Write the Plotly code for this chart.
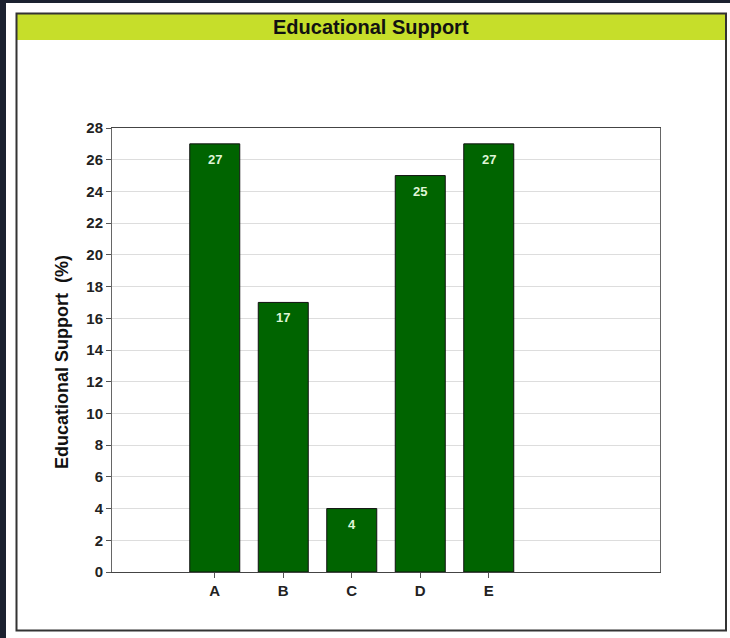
import plotly.graph_objects as go

categories = ["A", "B", "C", "D", "E"]
support_pct = [27, 17, 4, 25, 27]
y_ticks = list(range(0, 29, 2))

W, H = 730, 638
L, R, T, B = 112, 70, 128, 66
pw, ph = W - L - R, H - T - B
FONT = "Liberation Sans, Arial, Helvetica"


def px_x(px):
    return (px - L) / pw


def px_y(py):
    return (H - B - py) / ph


fig = go.Figure(
    go.Bar(
        x=categories,
        y=support_pct,
        width=0.73,
        marker=dict(color="#006400", line=dict(color="#111111", width=1)),
        hoverinfo="x+y",
    )
)

# value labels just inside the top of each bar
value_labels = [
    dict(x=c, y=v, xref="x", yref="y", text=f"<b>{v}</b>", showarrow=False,
         xanchor="center", yanchor="top", yshift=-6,
         font=dict(size=13, color="#dff5d6", family=FONT))
    for c, v in zip(categories, support_pct)
]

shapes = [
    # dark page edges
    dict(type="rect", xref="paper", yref="paper", x0=px_x(-5), x1=px_x(W + 5),
         y0=px_y(3), y1=px_y(-5), fillcolor="#1b2130", line=dict(width=0), layer="below"),
    dict(type="rect", xref="paper", yref="paper", x0=px_x(-5), x1=px_x(6),
         y0=px_y(H + 5), y1=px_y(-5), fillcolor="#1b2130", line=dict(width=0), layer="below"),
    # header band
    dict(type="rect", xref="paper", yref="paper", x0=px_x(17), x1=px_x(725.5),
         y0=px_y(40), y1=px_y(14), fillcolor="#c6de2a", line=dict(width=0), layer="below"),
    # panel frame
    dict(type="rect", xref="paper", yref="paper", x0=px_x(16.5), x1=px_x(726),
         y0=px_y(630.5), y1=px_y(13.5), fillcolor="rgba(0,0,0,0)",
         line=dict(color="#333333", width=2), layer="above"),
]

fig.update_layout(
    width=W,
    height=H,
    margin=dict(l=L, r=R, t=T, b=B, autoexpand=False),
    paper_bgcolor="white",
    plot_bgcolor="rgba(0,0,0,0)",
    showlegend=False,
    shapes=shapes,
    font=dict(family=FONT, color="#222222"),
    annotations=[
        dict(text="<b>Educational Support</b>", xref="paper", yref="paper",
             x=px_x(371), y=px_y(27), xanchor="center", yanchor="middle",
             showarrow=False, font=dict(size=20, color="#111111")),
        dict(text="<b>Educational Support  (%)</b>", xref="paper", yref="paper",
             x=px_x(62), y=px_y(362), xanchor="center", yanchor="middle",
             textangle=-90, showarrow=False, font=dict(size=18, color="#111111")),
    ] + value_labels,
    xaxis=dict(
        range=[-1.5, 6.5],
        showline=True, linecolor="#444444", linewidth=1, mirror=True,
        ticks="outside", ticklen=5, tickcolor="#555555",
        tickfont=dict(size=15, color="#222222"),
        tickvals=categories,
        ticktext=[f"<b>{c}</b>" for c in categories],
        showgrid=False, zeroline=False,
    ),
    yaxis=dict(
        range=[0, 28],
        tickvals=y_ticks,
        ticktext=[f"<b>{v}</b>" for v in y_ticks],
        showline=True, linecolor="#666666", linewidth=1, mirror=True,
        ticks="outside", ticklen=5, tickcolor="#555555",
        tickfont=dict(size=15, color="#222222"),
        showgrid=True, gridcolor="#dddddd", gridwidth=1,
        zeroline=False,
    ),
)

fig.write_html("out.html")
